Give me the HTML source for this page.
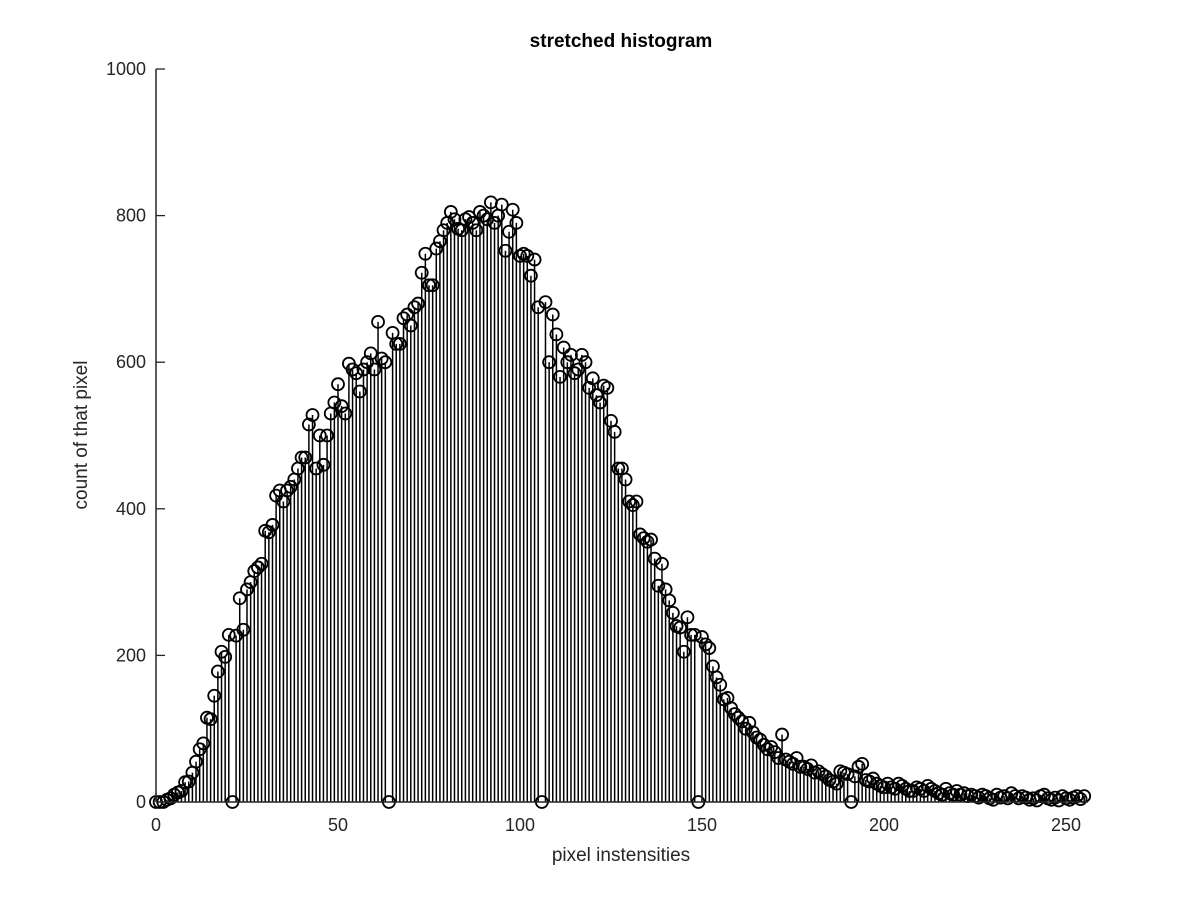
<!DOCTYPE html>
<html><head><meta charset="utf-8"><style>
body{margin:0;background:#fff}
svg{display:block;font-family:"Liberation Sans",sans-serif}
</style></head><body>
<svg id="chart" width="1200" height="900" viewBox="0 0 1200 900">
<rect width="1200" height="900" fill="#fff"/>
<text x="621" y="47" text-anchor="middle" font-size="19" font-weight="bold" fill="#000">stretched histogram</text>
<text x="621" y="861" text-anchor="middle" font-size="19" fill="#262626">pixel instensities</text>
<text x="0" y="0" transform="translate(87,435) rotate(-90)" text-anchor="middle" font-size="19" fill="#262626">count of that pixel</text>
<g id="marks"></g>
<g id="axes"></g>
</svg>
<script>
const counts = [0,0,0,3,5,10,13,15,27,28,40,55,72,80,115,113,145,178,205,198,
228,0,227,278,235,290,300,315,320,325,370,368,378,418,425,410,425,430,440,455,
470,470,515,528,455,500,460,500,530,545,570,540,530,598,590,585,560,590,600,612,
590,655,605,600,0,640,625,625,660,665,650,675,680,722,748,705,705,755,765,780,
790,805,795,782,780,795,798,790,780,805,800,795,818,790,800,815,752,778,808,790,
745,748,745,718,740,675,0,682,600,665,638,580,620,600,610,585,590,610,600,565,
578,555,545,568,565,520,505,455,455,440,410,405,410,365,360,355,358,332,295,325,
290,275,258,240,238,205,252,228,228,0,225,215,210,185,170,160,140,142,128,120,
115,110,100,108,95,88,85,78,72,75,68,60,92,58,55,52,60,48,48,45,
50,40,42,38,35,30,28,25,42,40,38,0,35,48,52,30,28,32,25,22,
20,25,20,18,25,22,18,15,15,20,18,15,22,18,15,12,10,18,12,10,
15,10,12,8,10,8,6,10,8,5,3,10,6,8,5,12,8,5,8,6,
3,5,2,8,10,5,3,6,2,8,5,3,6,8,4,8];
const xTicks = [0,50,100,150,200,250];
const yTicks = [0,200,400,600,800,1000];
const X0=156, XS=3.64, Y0=802, YS=0.733;
function xs(v){return X0+v*XS;}
function ys(v){return Y0-v*YS;}
const NS="http://www.w3.org/2000/svg";
const marks=document.getElementById('marks');
const axes=document.getElementById('axes');
function mk(tag,attrs,parent){const e=document.createElementNS(NS,tag);for(const k in attrs)e.setAttribute(k,attrs[k]);parent.appendChild(e);return e;}
counts.forEach((c,i)=>{
  const l=mk('line',{x1:xs(i),x2:xs(i),y1:ys(0),y2:ys(c),stroke:'#000','stroke-width':1.5},marks);
  
  
});
counts.forEach((c,i)=>{
  const m=mk('circle',{cx:xs(i),cy:ys(c),r:6,fill:'none',stroke:'#000','stroke-width':1.8},marks);
  
  
});
const ya=mk('line',{x1:X0,x2:X0,y1:ys(1000),y2:Y0,stroke:'#262626','stroke-width':1.5},axes);


const xa=mk('line',{x1:X0,x2:xs(256),y1:Y0,y2:Y0,stroke:'#262626','stroke-width':1.5},axes);


xTicks.forEach(t=>{
  const tk=mk('line',{x1:xs(t),x2:xs(t),y1:Y0,y2:Y0-9,stroke:'#262626','stroke-width':1.3},axes);
  
  
  const tx=mk('text',{x:xs(t),y:Y0+29,'text-anchor':'middle','font-size':18,fill:'#262626'},axes);
  tx.textContent=t;
  
  
});
yTicks.forEach(t=>{
  const tk=mk('line',{x1:X0,x2:X0+9,y1:ys(t),y2:ys(t),stroke:'#262626','stroke-width':1.3},axes);
  
  
  const tx=mk('text',{x:X0-10,y:ys(t)+6,'text-anchor':'end','font-size':18,fill:'#262626'},axes);
  tx.textContent=t;
  
  
});
</script>
</body></html>
